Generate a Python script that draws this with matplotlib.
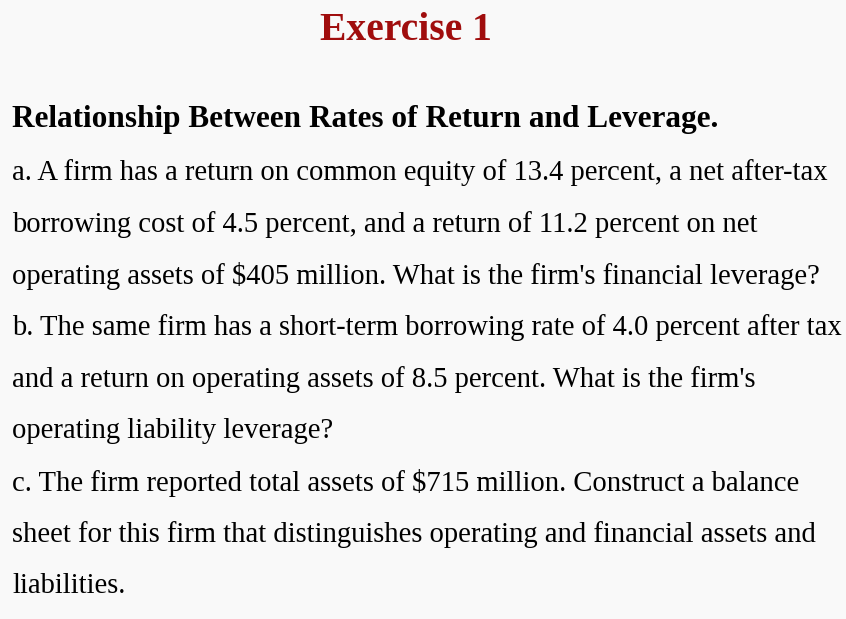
import matplotlib.pyplot as plt

title = "Exercise 1"
heading = "Relationship Between Rates of Return and Leverage."
lines = [
    "a. A firm has a return on common equity of 13.4 percent, a net after-tax",
    "borrowing cost of 4.5 percent, and a return of 11.2 percent on net",
    "operating assets of $405 million. What is the firm's financial leverage?",
    "b. The same firm has a short-term borrowing rate of 4.0 percent after tax",
    "and a return on operating assets of 8.5 percent. What is the firm's",
    "operating liability leverage?",
    "c. The firm reported total assets of $715 million. Construct a balance",
    "sheet for this firm that distinguishes operating and financial assets and",
    "liabilities.",
]

W, H = 846, 619
fig = plt.figure(figsize=(W / 100, H / 100), dpi=100, facecolor="#f9f9f9")
plt.rcParams['font.family'] = ['Liberation Serif', 'DejaVu Serif']

def fy(px):
    return 1 - px / H

fig.text(406 / W, fy(30), title, ha="center", va="center", fontsize=28.5,
         fontweight="bold", color="#a00d0d")
fig.text(12 / W, fy(120), heading, ha="left", va="center", fontsize=22.5,
         fontweight="bold", color="black")

y0, step = 173, 51.6
for i, line in enumerate(lines):
    fig.text(12 / W, fy(y0 + i * step), line, ha="left", va="center",
             fontsize=20.6, color="black")

fig.savefig("out.png", dpi=100, facecolor=fig.get_facecolor())
